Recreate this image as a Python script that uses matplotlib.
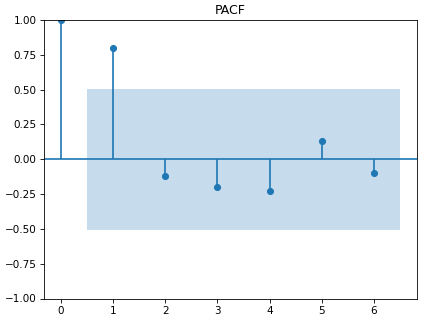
import numpy as np
import matplotlib
matplotlib.use("Agg")
import matplotlib.pyplot as plt

lags = [0, 1, 2, 3, 4, 5, 6]
pacf_vals = [1.0, 0.80, -0.122, -0.20, -0.228, 0.134, -0.098]
conf = 0.506

fig = plt.figure(figsize=(421 / 75, 319 / 75), dpi=75)
ax = fig.add_axes([44 / 421, 1 - 298.5 / 319, 373 / 421, 278.5 / 319])

ax.vlines(lags, [0], pacf_vals, color="C0", linewidth=1.6)
ax.axhline(0, color="C0", linewidth=1.6)
ax.plot(lags, pacf_vals, "o", color="C0", markersize=5.8)

band_x = np.array(lags[1:], dtype=float)
band_x[0] -= 0.5
band_x[-1] += 0.5
ax.fill_between(band_x, -conf, conf, alpha=0.25, linewidth=0)

ax.set_ylim(-1, 1)
ax.set_title("PACF")

fig.savefig("out.png", dpi=75)
